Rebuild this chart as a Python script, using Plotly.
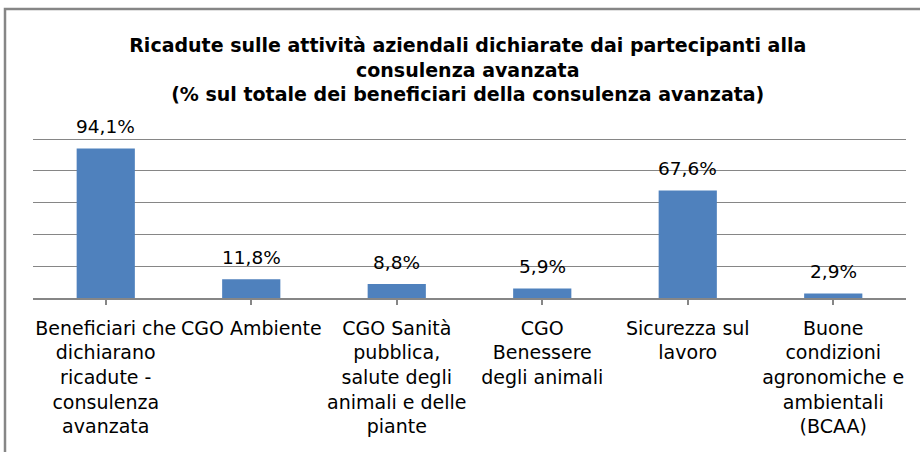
import plotly.graph_objects as go

categories = [
    "Beneficiari che<br>dichiarano<br>ricadute -<br>consulenza<br>avanzata",
    "CGO Ambiente",
    "CGO Sanità<br>pubblica,<br>salute degli<br>animali e delle<br>piante",
    "CGO<br>Benessere<br>degli animali",
    "Sicurezza sul<br>lavoro",
    "Buone<br>condizioni<br>agronomiche e<br>ambientali<br>(BCAA)",
]
values = [94.1, 11.8, 8.8, 5.9, 67.6, 2.9]
labels = [f"{v:.1f}%".replace(".", ",") for v in values]
title_lines = [
    "Ricadute sulle attività aziendali dichiarate dai partecipanti alla",
    "consulenza avanzata",
    "(% sul totale dei beneficiari della consulenza avanzata)",
]

GRAY = "#868686"
xs = list(range(len(categories)))

fig = go.Figure()
fig.add_trace(go.Bar(
    x=xs, y=values, width=0.4,
    marker=dict(color="#4F81BD", line=dict(width=0)),
    hoverinfo="skip",
))

for x, v, t in zip(xs, values, labels):
    fig.add_annotation(x=x, y=v, text=t, showarrow=False, yshift=22,
                       yanchor="middle", xanchor="center",
                       font=dict(family="DejaVu Sans", size=18.5, color="#000"))

fig.update_layout(
    width=920, height=452,
    margin=dict(l=33, r=14, t=136, b=154, autoexpand=False),
    paper_bgcolor="white", plot_bgcolor="white",
    showlegend=False,
    bargap=0.6,
    title=dict(
        text="<b>" + "<br>".join(title_lines) + "</b>",
        x=0.498, xref="paper", xanchor="center",
        y=1 - 52 / 452, yref="container", yanchor="middle",
        font=dict(family="DejaVu Sans", size=19, color="#000"),
    ),
    xaxis=dict(
        tickmode="array", tickvals=xs, ticktext=categories,
        range=[-0.5, 5.5], automargin=False,
        showline=True, linecolor=GRAY, linewidth=1.5,
        ticks="outside", tickson="boundaries", ticklen=5, tickcolor=GRAY, tickwidth=1.5,
        showgrid=False, zeroline=False,
        tickfont=dict(family="DejaVu Sans", size=19, color="#000"),
        tickangle=0, ticklabelstandoff=7,
    ),
    yaxis=dict(
        range=[0, 101.9], tickvals=[0, 20, 40, 60, 80, 100], automargin=False,
        showticklabels=False, showgrid=True, gridcolor=GRAY, gridwidth=1,
        zeroline=False, showline=False, ticks="",
    ),
    shapes=[dict(
        type="rect", xref="paper", yref="paper",
        x0=(5 - 33) / 873, x1=(935 - 33) / 873,
        y0=(298 - 470) / 162, y1=(298 - 9) / 162,
        line=dict(color=GRAY, width=2.5), fillcolor="rgba(0,0,0,0)",
        layer="below",
    )],
)

fig.write_html("out.html", config={"displayModeBar": False},
               post_script="document.body.style.margin='0';")
